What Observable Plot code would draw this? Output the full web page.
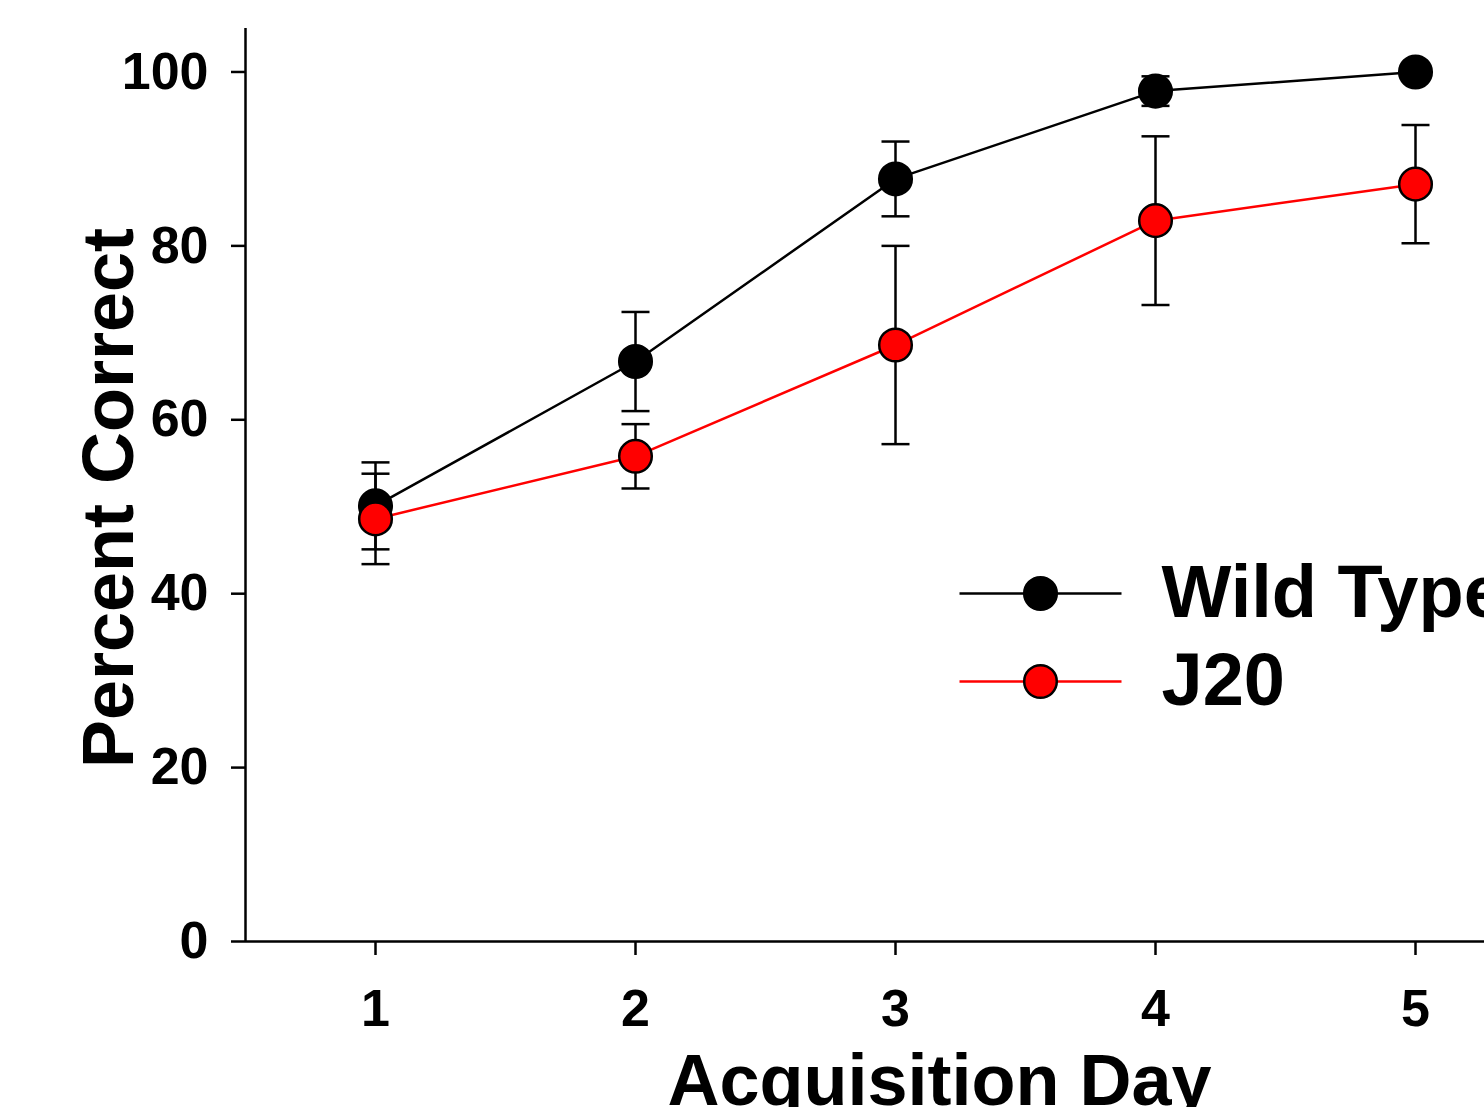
<!DOCTYPE html>
<html><head><meta charset="utf-8">
<script src="https://cdn.jsdelivr.net/npm/d3@7"></script>
<script src="https://cdn.jsdelivr.net/npm/@observablehq/plot@0.6"></script>
<style>html,body{margin:0;padding:0;background:#fff;overflow:hidden;} #chart svg{max-width:none !important;height:auto;}</style>
</head><body><div id="chart"></div>
<script>
// ---- data ----
const days = [1, 2, 3, 4, 5];
const seriesNames = ["Wild Type", "J20"];
const seriesColors = ["black", "red"];
const wildTypeMean = [50.1, 66.7, 87.7, 97.8, 100.0];
const wildTypeSEM  = [5.0, 5.7, 4.3, 1.7, 0.0];
const j20Mean      = [48.6, 55.8, 68.6, 82.9, 87.1];
const j20SEM       = [5.2, 3.7, 11.4, 9.7, 6.8];
const xTicks = [1, 2, 3, 4, 5];
const yTicks = [0, 20, 40, 60, 80, 100];
const xTitle = "Acquisition Day";
const yTitle = "Percent Correct";

// ---- build tables ----
const means = [wildTypeMean, j20Mean];
const sems = [wildTypeSEM, j20SEM];
const tables = seriesNames.map((name, s) => days.map((d, i) => ({
  series: name, day: d, mean: means[s][i], sem: sems[s][i],
  lo: means[s][i] - sems[s][i], hi: means[s][i] + sems[s][i]
})));

const capSymbol = {draw(ctx, size) { const r = Math.sqrt(size / Math.PI); ctx.moveTo(-r, 0); ctx.lineTo(r, 0); }};
const font = "'Liberation Sans', Arial, Helvetica, sans-serif";
const sw = 2.5;

const marks = [];
// axis lines
marks.push(Plot.ruleY([0], {stroke: "black", strokeWidth: sw}));
marks.push(Plot.ruleX([0.5], {y1: 0, y2: 105, stroke: "black", strokeWidth: sw}));
marks.push(Plot.axisX({ticks: xTicks, tickSize: 14, tickPadding: 34, fontSize: 52, strokeWidth: sw, tickFormat: d => String(d), label: null}));
marks.push(Plot.axisY({ticks: yTicks, tickSize: 14, tickPadding: 23, fontSize: 52, strokeWidth: sw, tickFormat: d => String(d), label: null}));

tables.forEach((rows, s) => {
  const color = seriesColors[s];
  const bars = rows.filter(r => r.sem > 0);
  marks.push(Plot.line(rows, {x: "day", y: "mean", stroke: color, strokeWidth: sw}));
  marks.push(Plot.ruleX(bars, {x: "day", y1: "lo", y2: "hi", stroke: "black", strokeWidth: sw}));
  marks.push(Plot.dot(bars, {x: "day", y: "hi", symbol: capSymbol, r: 14, stroke: "black", strokeWidth: sw, fill: "none"}));
  marks.push(Plot.dot(bars, {x: "day", y: "lo", symbol: capSymbol, r: 14, stroke: "black", strokeWidth: sw, fill: "none"}));
  marks.push(Plot.dot(rows, {x: "day", y: "mean", r: 16.3, fill: color, stroke: "black", strokeWidth: sw}));
});

// legend (inside the frame, anchored to its top-left corner)
const legendRowDy = [565, 653];
seriesNames.forEach((name, s) => {
  const dy = legendRowDy[s];
  marks.push(Plot.dot([name], {frameAnchor: "top-left", dx: 795, dy, symbol: capSymbol, r: 81, stroke: seriesColors[s], strokeWidth: sw, fill: "none"}));
  marks.push(Plot.dot([name], {frameAnchor: "top-left", dx: 795, dy, r: 16.3, fill: seriesColors[s], stroke: "black", strokeWidth: sw}));
  marks.push(Plot.text([name], {frameAnchor: "top-left", dx: 916, dy, text: d => d, textAnchor: "start", lineAnchor: "middle", fontSize: 74, fontWeight: "bold", fill: "black"}));
});

// axis titles
marks.push(Plot.text([xTitle], {frameAnchor: "bottom", text: d => d, dx: 44, dy: 112, textAnchor: "middle", lineAnchor: "top", fontSize: 72, fontWeight: "bold", fill: "black"}));
marks.push(Plot.text([yTitle], {frameAnchor: "left", text: d => d, rotate: -90, dx: -136, dy: 13, textAnchor: "middle", lineAnchor: "middle", fontSize: 72, fontWeight: "bold", fill: "black"}));

const chart = Plot.plot({
  width: 1560, height: 1140,
  marginLeft: 245, marginRight: 15, marginTop: 28, marginBottom: 199,
  x: {domain: [0.5, 5.5]},
  y: {domain: [0, 105]},
  style: {fontFamily: font, fontWeight: "bold", color: "black", background: "white", overflow: "visible", maxWidth: "none"},
  marks
});
document.getElementById("chart").appendChild(chart);
</script>
</body></html>
